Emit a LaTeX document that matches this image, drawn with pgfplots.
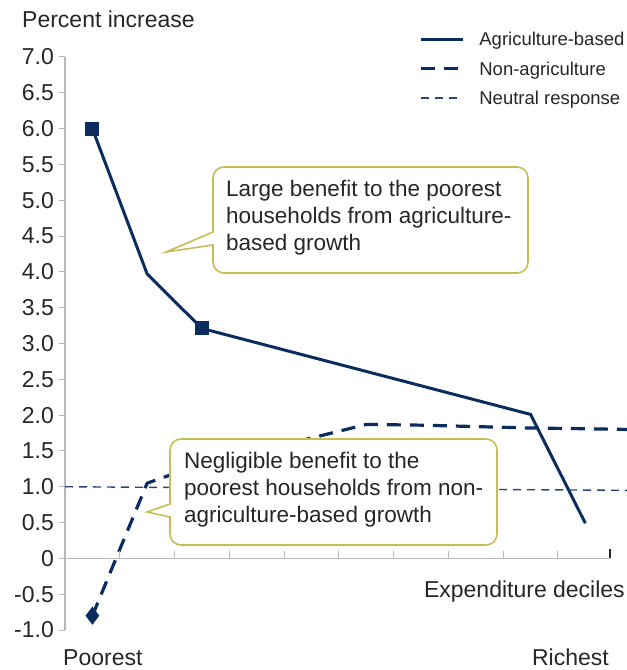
\documentclass[border=0pt]{standalone}
\usepackage{fontspec}
\setmainfont{Liberation Sans}
\usepackage{pgfplots}
\pgfplotsset{compat=1.18}
\definecolor{navy}{HTML}{0B2C5E}
\definecolor{neutral}{HTML}{24467A}
\definecolor{axisgray}{HTML}{B8B8B8}
\definecolor{callout}{HTML}{C6BD55}
\definecolor{txt}{HTML}{262626}
\begin{document}
\begin{tikzpicture}
\begin{axis}[
  scale only axis, width=545bp, height=573bp,
  xmin=0.5, xmax=10.45, ymin=-1, ymax=7,
  clip=false,
  axis x line=none, axis y line*=left,
  axis line style={-},
  y axis line style={axisgray, line width=1.2bp},
  ytick={-1,-0.5,0,0.5,1,1.5,2,2.5,3,3.5,4,4.5,5,5.5,6,6.5,7},
  yticklabels={-1.0,-0.5,0,0.5,1.0,1.5,2.0,2.5,3.0,3.5,4.0,4.5,5.0,5.5,6.0,6.5,7.0},
  tick align=outside, major tick length=6bp,
  ytick style={axisgray, line width=1bp},
  yticklabel style={font=\fontsize{23bp}{23bp}\selectfont, text=txt, anchor=east, inner sep=0pt, xshift=-5bp},
  legend style={at={(rel axis cs:0.6495,1.043)}, anchor=north west, draw=none, fill=none,
    inner sep=0pt, row sep=16bp, font=\fontsize{18.5bp}{18.5bp}\selectfont, text=txt,
    cells={anchor=west}, nodes={inner sep=0pt, text depth=0pt},
    /tikz/every odd column/.append style={column sep=15bp}},
  legend cell align=left,
  legend image code/.code={\draw[#1] (0bp,0bp) -- (42bp,0bp);},
]
\addplot[navy, line width=3bp, mark=square*, mark indices={1,3}, mark size=5.5bp, mark options={solid}]
  coordinates {(1,6.0) (2,3.97) (3,3.21) (4,3.01) (5,2.81) (6,2.61) (7,2.41) (8,2.21) (9,2.01) (10,0.49)};
\addlegendentry{Agriculture-based}
\addplot[navy, line width=3.2bp, dash pattern=on 14bp off 9bp, mark=diamond*, mark indices={1}, mark size=6.5bp, mark options={solid}]
  coordinates {(1,-0.8) (2,1.05) (3,1.32) (4,1.50) (5,1.68) (6,1.87) (7,1.86) (8,1.84) (9,1.82) (10,1.81) (10.76,1.80)};
\addlegendentry{Non-agriculture}
\addplot[neutral, line width=1.4bp, dash pattern=on 8bp off 6bp]
  coordinates {(0.5,1.0) (10.76,0.95)};
\addlegendentry{Neutral response}
\draw[axisgray, line width=1.2bp] (axis cs:0.5,0) -- (axis cs:10.45,0);
\pgfplotsinvokeforeach{1.5,2.5,3.5,4.5,5.5,6.5,7.5,8.5,9.5}{
  \draw[axisgray, line width=1bp] (axis cs:#1,0) -- ([yshift=7bp]axis cs:#1,0);
}
\draw[black!85, line width=1.4bp] (axis cs:10.45,0) -- ([yshift=9bp]axis cs:10.45,0);
\end{axis}
\begin{scope}[x=1bp, y=-1bp, shift={(-65bp,630bp)}]
  \tikzset{lab/.style={text=txt, inner sep=0pt, font=\fontsize{23bp}{26bp}\selectfont},
           cal/.style={text=txt, inner sep=0pt, font=\fontsize{22.5bp}{26bp}\selectfont}}
  \node[lab, anchor=base west] at (22,28) {Percent increase};
  \node[lab, anchor=base east] at (625,598) {Expenditure deciles};
  \node[lab, anchor=base west] at (63,665) {Poorest};
  \node[lab, anchor=base east] at (609,665) {Richest};
  % callout 1
  \draw[callout, line width=1.6bp, fill=white, rounded corners=11bp]
    (213,232) -- (213,167) -- (528,167) -- (528,273) -- (213,273) [sharp corners] -- (213,245) -- (166,252) -- cycle;
  \node[cal, anchor=base west] at (226,197) {Large benefit to the poorest};
  \node[cal, anchor=base west] at (226,224) {households from agriculture-};
  \node[cal, anchor=base west] at (226,251) {based growth};
  % callout 2
  \draw[callout, line width=1.6bp, fill=white, rounded corners=11bp]
    (170,504) -- (170,439) -- (497,439) -- (497,545) -- (170,545) [sharp corners] -- (170,517) -- (147,512) -- cycle;
  \node[cal, anchor=base west] at (184,469) {Negligible benefit to the};
  \node[cal, anchor=base west] at (184,496) {poorest households from non-};
  \node[cal, anchor=base west] at (184,523) {agriculture-based growth};
  \pgfresetboundingbox
  \path[use as bounding box] (0,0) rectangle (627,670);
\end{scope}
\end{tikzpicture}
\end{document}
